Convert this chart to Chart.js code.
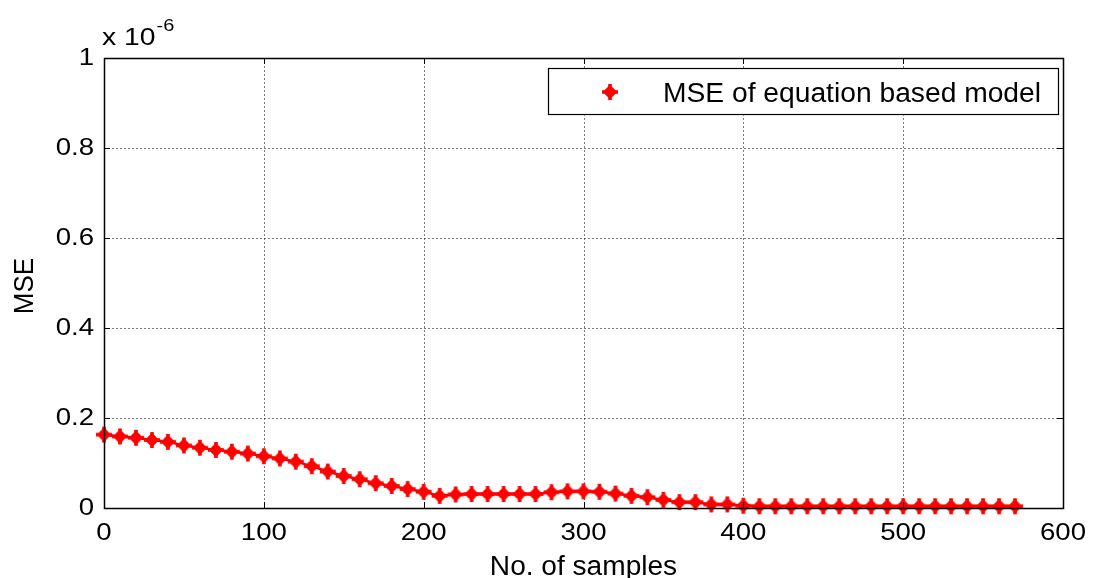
<!DOCTYPE html>
<html><head><meta charset="utf-8">
<script src="https://cdn.jsdelivr.net/npm/chart.js@4"></script>
<style>html,body{margin:0;padding:0;background:#fff}#wrap{width:1098px;height:578px;position:relative}</style>
</head><body><div id="wrap"><canvas id="c" width="1098" height="578"></canvas></div>
<script>
// ---- data (MSE values are in units of 1e-6) ----
const samples = [0,10,20,30,40,50,60,70,80,90,100,110,120,130,140,150,160,170,180,190,200,
  210,220,230,240,250,260,270,280,290,300,310,320,330,340,350,360,370,380,390,400,
  410,420,430,440,450,460,470,480,490,500,510,520,530,540,550,560,570];
const mseValues = [0.163,0.159,0.156,0.151,0.147,0.139,0.134,0.129,0.125,0.121,0.115,0.110,0.103,0.093,0.081,0.071,0.064,0.055,0.049,0.042,0.036,
  0.027,0.030,0.031,0.031,0.031,0.031,0.031,0.035,0.037,0.037,0.036,0.032,0.027,0.024,0.018,0.013,0.013,0.008,0.008,0.005,
  0.004,0.004,0.004,0.004,0.004,0.004,0.004,0.004,0.004,0.004,0.004,0.004,0.004,0.004,0.004,0.004,0.004];
const xTicks = [0,100,200,300,400,500,600];
const xTickLabels = ['0','100','200','300','400','500','600'];
const yTicks = [0,0.2,0.4,0.6,0.8,1];
const yTickLabels = ['0','0.2','0.4','0.6','0.8','1'];
const seriesLabel = 'MSE of equation based model';
const xTitle = 'No. of samples';
const yTitle = 'MSE';
const exponentText = '-6';

const FONT = '"Liberation Sans", Arial, sans-serif';
const RED = '#ff0000';

// horizontally stretched text (the reference text is slightly wide)
const canvas = document.getElementById('c');
const g2d = canvas.getContext('2d');
const rawFill = g2d.fillText.bind(g2d);
let textStretch = 1.15;
g2d.fillText = function (t, x, y, mw) {
  this.save();
  this.translate(x, y);
  this.scale(textStretch, 1);
  rawFill(t, 0, 0);
  this.restore();
};

function drawMarker(g, cx, cy) {
  g.fillStyle = RED;
  g.beginPath();
  g.moveTo(cx, cy - 7.2); g.lineTo(cx + 7.2, cy); g.lineTo(cx, cy + 7.2); g.lineTo(cx - 7.2, cy);
  g.closePath(); g.fill();
  g.fillRect(cx - 1.8, cy - 8, 3.6, 16);
  g.fillRect(cx - 8, cy - 1.8, 16, 3.6);
}
function makeMarker() {
  const c = document.createElement('canvas');
  c.width = 18; c.height = 18;
  drawMarker(c.getContext('2d'), 9, 9);
  return c;
}
const markerImg = makeMarker();

const framePlugin = {
  id: 'frame',
  beforeDatasetsDraw(chart) {
    const {ctx, chartArea: a, scales: {x, y}} = chart;
    ctx.save();
    ctx.strokeStyle = 'rgba(0,0,0,0.5)';
    ctx.lineWidth = 1;
    ctx.setLineDash([2, 2]);
    xTicks.forEach(v => {
      if (v === xTicks[0] || v === xTicks[xTicks.length - 1]) return;
      const px = Math.round(x.getPixelForValue(v)) + 0.5;
      ctx.beginPath(); ctx.moveTo(px, a.top); ctx.lineTo(px, a.bottom); ctx.stroke();
    });
    yTicks.forEach(v => {
      if (v === yTicks[0] || v === yTicks[yTicks.length - 1]) return;
      const py = Math.round(y.getPixelForValue(v)) + 0.5;
      ctx.beginPath(); ctx.moveTo(a.left, py); ctx.lineTo(a.right, py); ctx.stroke();
    });
    ctx.restore();
  },
  afterDraw(chart) {
    const {ctx, chartArea: a, scales: {x, y}} = chart;
    ctx.save();
    ctx.strokeStyle = '#000';
    ctx.lineWidth = 1.5;
    ctx.setLineDash([]);
    ctx.strokeRect(Math.round(a.left) + 0.5, Math.round(a.top) + 0.5, Math.round(a.right - a.left), Math.round(a.bottom - a.top));
    ctx.lineWidth = 1;
    const tl = 6;
    xTicks.forEach(v => {
      const px = Math.round(x.getPixelForValue(v)) + 0.5;
      ctx.beginPath(); ctx.moveTo(px, a.bottom); ctx.lineTo(px, a.bottom - tl); ctx.stroke();
      ctx.beginPath(); ctx.moveTo(px, a.top); ctx.lineTo(px, a.top + tl); ctx.stroke();
    });
    yTicks.forEach(v => {
      const py = Math.round(y.getPixelForValue(v)) + 0.5;
      ctx.beginPath(); ctx.moveTo(a.left, py); ctx.lineTo(a.left + tl, py); ctx.stroke();
      ctx.beginPath(); ctx.moveTo(a.right, py); ctx.lineTo(a.right - tl, py); ctx.stroke();
    });
    // exponent label
    ctx.fillStyle = '#000';
    ctx.textAlign = 'left';
    ctx.textBaseline = 'alphabetic';
    textStretch = 1.18;
    ctx.font = '24px ' + FONT;
    ctx.fillText('x 10', a.left - 2, 45);
    const w = ctx.measureText('x 10').width * textStretch;
    ctx.font = '17px ' + FONT;
    ctx.fillText(exponentText, a.left - 2 + w + 1, 31);
    // axis titles
    textStretch = 1.04;
    ctx.font = '27px ' + FONT;
    ctx.textAlign = 'center';
    ctx.fillText(xTitle, (a.left + a.right) / 2, 575);
    ctx.save();
    ctx.translate(33, 286);
    ctx.rotate(-Math.PI / 2);
    ctx.scale(1, 1.08);
    ctx.font = '26px ' + FONT;
    rawFill(yTitle, 0, 0);
    ctx.restore();
    // legend
    const lx = 548.5, ly = 68.5, lw = 510, lh = 46;
    ctx.fillStyle = '#fff';
    ctx.fillRect(lx, ly, lw, lh);
    ctx.strokeStyle = '#000';
    ctx.lineWidth = 1.2;
    ctx.strokeRect(lx, ly, lw, lh);
    drawMarker(ctx, 610, 92);
    ctx.fillStyle = '#000';
    ctx.textAlign = 'left';
    ctx.font = '27px ' + FONT;
    textStretch = 1.045;
    ctx.fillText(chart.data.datasets[0].label, 663, 102);
    textStretch = 1.15;
    ctx.restore();
  }
};

new Chart(canvas, {
  type: 'line',
  data: {
    datasets: [{
      label: seriesLabel,
      data: samples.map((s, i) => ({x: s, y: mseValues[i]})),
      borderColor: RED,
      backgroundColor: RED,
      borderWidth: 2.5,
      pointStyle: markerImg,
      pointRadius: 8,
      tension: 0,
      clip: false
    }]
  },
  options: {
    responsive: false,
    animation: false,
    devicePixelRatio: 1,
    layout: {padding: {left: 0, right: 35, top: 58, bottom: 0}},
    plugins: {legend: {display: false}, tooltip: {enabled: false}, title: {display: false}},
    scales: {
      x: {
        type: 'linear', min: 0, max: 600,
        afterBuildTicks: s => { s.ticks = xTicks.map(v => ({value: v})); },
        afterFit: s => { s.height = 70; },
        ticks: {
          autoSkip: false, maxRotation: 0, padding: 11, color: '#000',
          font: {family: FONT, size: 24},
          callback: (v, i) => xTickLabels[i]
        },
        grid: {display: false, drawTicks: false},
        border: {display: false}
      },
      y: {
        type: 'linear', min: 0, max: 1,
        afterBuildTicks: s => { s.ticks = yTicks.map(v => ({value: v})); },
        afterFit: s => { s.width = 104; },
        ticks: {
          autoSkip: false, padding: 10, color: '#000',
          font: {family: FONT, size: 24},
          callback: (v, i) => yTickLabels[i]
        },
        grid: {display: false, drawTicks: false},
        border: {display: false}
      }
    }
  },
  plugins: [framePlugin]
});
</script>
</body></html>
